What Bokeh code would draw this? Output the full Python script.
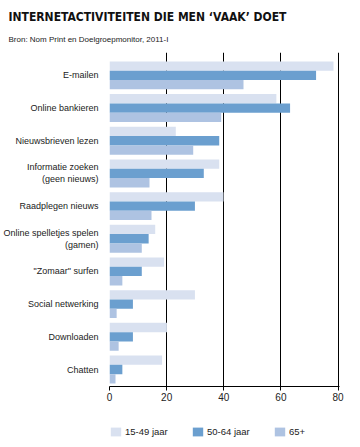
from bokeh.plotting import figure
from bokeh.layouts import column
from bokeh.models import ColumnDataSource, Range1d, FixedTicker, Legend, LegendItem, Title
from bokeh.embed import file_html
from bokeh.resources import INLINE

categories = ["E-mailen", "Online bankieren", "Nieuwsbrieven lezen",
              "Informatie zoeken\n(geen nieuws)", "Raadplegen nieuws",
              "Online spelletjes spelen\n(gamen)", "\"Zomaar\" surfen",
              "Social netwerking", "Downloaden", "Chatten"]
age_15_49 = [78.4, 58.4, 23.2, 38.4, 39.9, 16.0, 19.1, 29.9, 20.1, 18.4]
age_50_64 = [72.3, 63.2, 38.4, 33.0, 29.9, 13.7, 11.3, 8.2, 8.2, 4.5]
age_65 = [46.9, 39.1, 29.3, 14.0, 14.7, 11.3, 4.5, 2.5, 3.2, 2.1]
series_names = ["15-49 jaar", "50-64 jaar", "65+"]
x_ticks = [0, 20, 40, 60, 80]

colors = ["#D9E1F0", "#6B9FCF", "#AEC3E2"]
n = len(categories)
pos = [n - 1 - i for i in range(n)]
bh = 0.285
offsets = [bh, 0.0, -bh]

p = figure(width=344, height=419, output_backend="svg", toolbar_location=None,
           x_range=Range1d(0, 80.5), y_range=Range1d(-0.52, 9.70),
           min_border_left=101, min_border_right=0, min_border_top=52,
           min_border_bottom=33)
p.outline_line_color = None
p.background_fill_color = "white"

sources = []
for vals, col, off in zip([age_15_49, age_50_64, age_65], colors, offsets):
    src = ColumnDataSource(dict(y=[v + off for v in pos], right=vals))
    sources.append(src)
    p.hbar(y="y", left=0, right="right", height=bh, source=src,
           fill_color=col, line_color=None)

# axes
p.xaxis.ticker = FixedTicker(ticks=x_ticks)
p.xaxis.axis_line_color = "black"
p.xaxis.major_tick_line_color = "black"
p.xaxis.major_tick_out = 4
p.xaxis.major_tick_in = 0
p.xaxis.minor_tick_line_color = None
p.xaxis.major_label_text_font = "Liberation Sans"
p.xaxis.major_label_text_font_size = "10px"
p.xaxis.major_label_text_color = "#222222"
p.xaxis.major_label_standoff = 2

p.yaxis.ticker = FixedTicker(ticks=pos)
p.yaxis.major_label_overrides = {pp: c for pp, c in zip(pos, categories)}
p.yaxis.axis_line_color = None
p.yaxis.major_tick_line_color = None
p.yaxis.minor_tick_line_color = None
p.yaxis.major_label_text_font = "Liberation Sans"
p.yaxis.major_label_text_font_size = "9px"
p.yaxis.major_label_text_color = "#222222"
p.yaxis.major_label_standoff = 5

p.xgrid.grid_line_color = "black"
p.xgrid.grid_line_width = 1
p.xgrid.ticker = FixedTicker(ticks=x_ticks)
p.ygrid.grid_line_color = None

# titles
sub = Title(text="Bron: Nom Print en Doelgroepmonitor, 2011-I", align="left",
            text_font="Liberation Sans", text_font_size="8px", text_font_style="normal",
            text_color="#222222", offset=-101, standoff=18)
p.add_layout(sub, "above")
main = Title(text="INTERNETACTIVITEITEN DIE MEN \u2018VAAK\u2019 DOET", align="left",
             text_font="DejaVu Sans Condensed", text_font_size="12px",
             text_font_style="bold", text_color="#111111", offset=-101, standoff=0)
p.add_layout(main, "above")

# legend strip
lg = figure(width=344, height=19, output_backend="svg", toolbar_location=None,
            x_range=Range1d(0, 80.5), y_range=Range1d(-0.52, 9.70),
            x_axis_type=None, y_axis_type=None,
            min_border_left=101, min_border_right=5, min_border_top=7, min_border_bottom=0)
lg.outline_line_color = None
lg.xgrid.visible = False
lg.ygrid.visible = False
items = []
for nm, col, src in zip(series_names, colors, sources):
    r = lg.hbar(y="y", left=0, right="right", height=bh, source=src,
                fill_color=col, line_color=None, visible=False)
    items.append(LegendItem(label=nm, renderers=[r]))
legend = Legend(items=items, orientation="horizontal", location="top_left",
                glyph_width=13, glyph_height=11, label_standoff=3, label_width=63,
                spacing=3, padding=0, margin=0, border_line_color=None,
                background_fill_alpha=0, label_text_font="Liberation Sans",
                label_text_font_size="9.5px", label_text_color="#222222")
lg.add_layout(legend, "center")

layout = column(p, lg, spacing=0)
open("out.html", "w").write(file_html(layout, INLINE))
